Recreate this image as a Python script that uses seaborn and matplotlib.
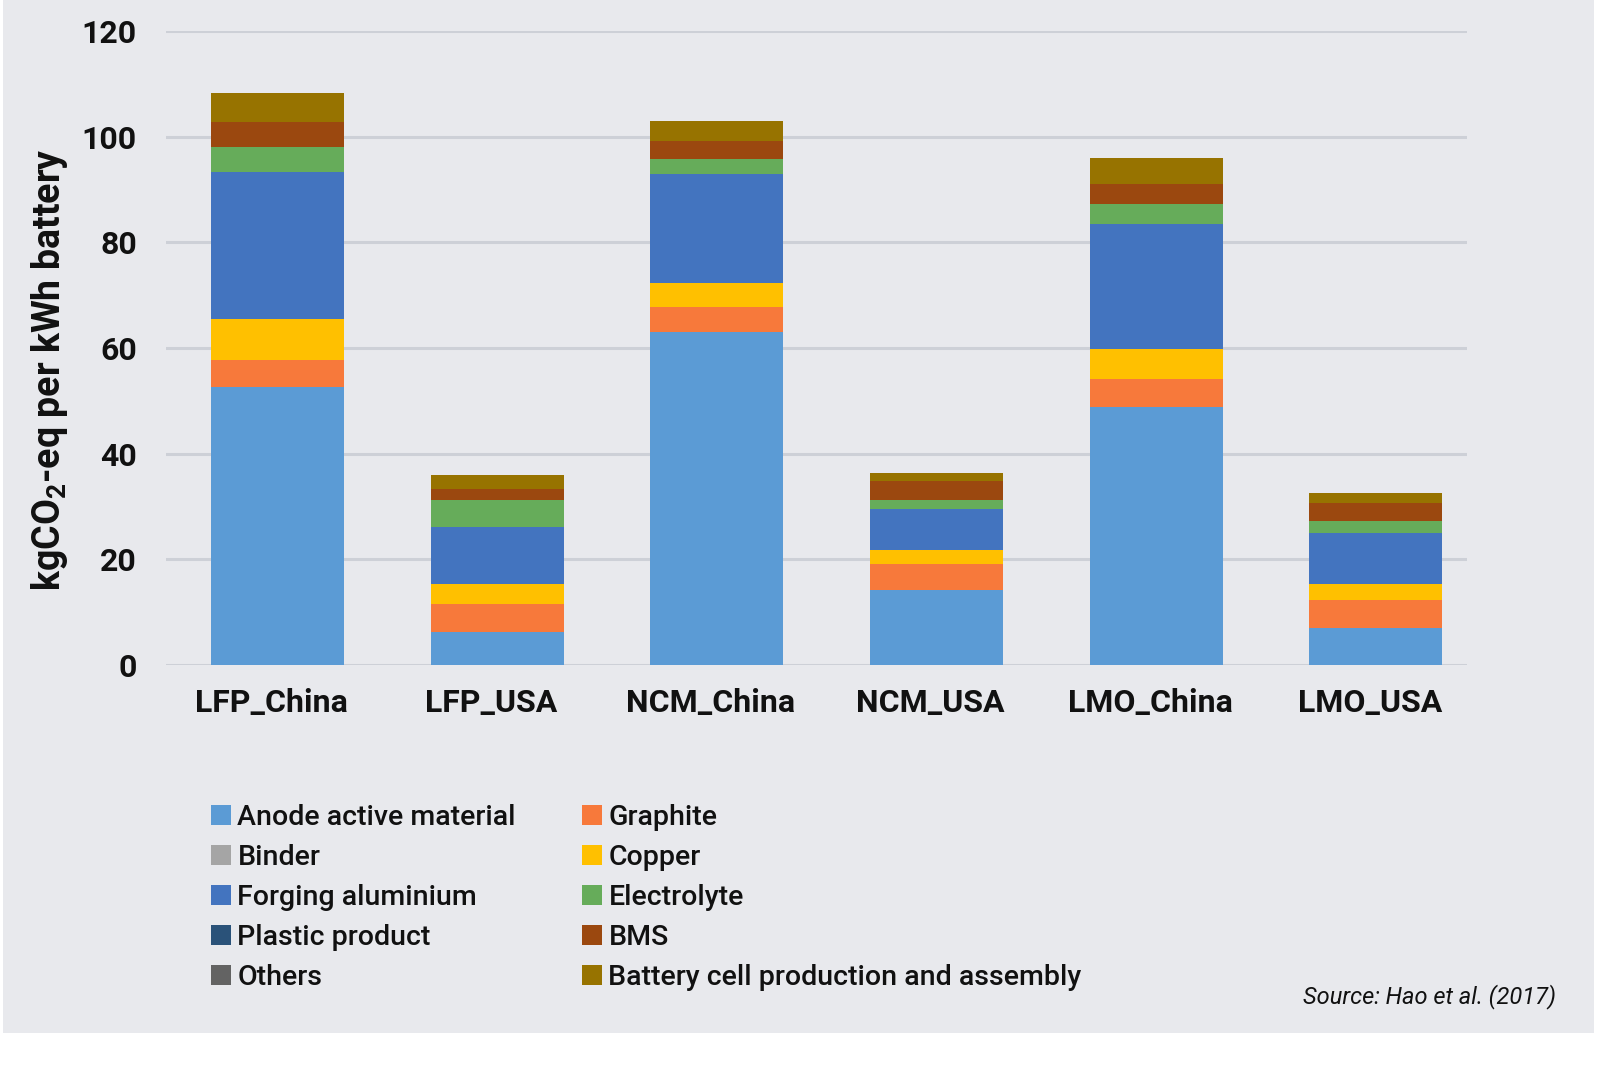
import numpy as np
import pandas as pd
import matplotlib
matplotlib.use("Agg")
import matplotlib.pyplot as plt
import matplotlib.transforms as mtransforms
import seaborn as sns
from matplotlib.patches import Patch, Rectangle
from matplotlib.font_manager import FontProperties

categories = ["LFP_China", "LFP_USA", "NCM_China", "NCM_USA", "LMO_China", "LMO_USA"]

anode_active = [52.6, 6.2, 63.1, 14.1, 48.8, 7.0]
graphite = [5.2, 5.3, 4.6, 4.9, 5.4, 5.3]
binder = [0.0, 0.0, 0.0, 0.0, 0.0, 0.0]
copper = [7.6, 3.7, 4.5, 2.7, 5.5, 3.0]
forging_al = [27.9, 10.9, 20.7, 7.7, 23.8, 9.7]
electrolyte = [4.8, 5.0, 2.9, 1.7, 3.8, 2.3]
plastic = [0.0, 0.0, 0.0, 0.0, 0.0, 0.0]
bms = [4.6, 2.2, 3.4, 3.7, 3.7, 3.3]
others = [0.0, 0.0, 0.0, 0.0, 0.0, 0.0]
cell_assembly = [5.6, 2.7, 3.8, 1.5, 4.9, 2.0]

series_names = ["Anode active material", "Graphite", "Binder", "Copper",
                "Forging aluminium", "Electrolyte", "Plastic product", "BMS",
                "Others", "Battery cell production and assembly"]
series_values = [anode_active, graphite, binder, copper, forging_al,
                 electrolyte, plastic, bms, others, cell_assembly]
series_colors = ["#5B9BD5", "#F7793B", "#A5A5A5", "#FFC000", "#4374BF",
                 "#66AC5A", "#2A5279", "#9B480F", "#636363", "#977300"]

yticks = [0, 20, 40, 60, 80, 100, 120]

sns.set_theme(style="white")
plt.rcParams["font.family"] = ["Roboto", "DejaVu Sans"]
plt.rcParams["mathtext.default"] = "regular"

W, H = 1600, 1067
fig = plt.figure(figsize=(W / 100, H / 100), dpi=100)
fig.patch.set_facecolor("white")
bg = Rectangle((3 / W, 1 - 1033 / H), (1594 - 3) / W, 1033 / H,
               transform=fig.transFigure, facecolor="#E8E9ED",
               edgecolor="none", zorder=-10)
fig.patches.append(bg)

ax_left, ax_right = 166 / W, 1467 / W
ax_top, ax_bot = 1 - 31.1 / H, 1 - 664.7 / H
ax = fig.add_axes([ax_left, ax_bot, ax_right - ax_left, ax_top - ax_bot])
ax.set_facecolor("none")
ax.set_zorder(1)

df = pd.DataFrame({"category": categories})
bottom = np.zeros(len(categories))
for name, vals, col in zip(series_names, series_values, series_colors):
    df["value"] = vals
    sns.barplot(data=df, x="category", y="value", bottom=bottom, color=col,
                width=0.606, linewidth=0, saturation=1, ax=ax, zorder=3)
    bottom = bottom + np.array(vals)

ax.set_xlim(-0.508, 5.415)
ax.set_ylim(0, 120)
ax.set_yticks(yticks)
ax.yaxis.grid(True, color="#CDD0D7", linewidth=2.2, zorder=0)
ax.xaxis.grid(False)
ax.set_axisbelow(True)
for s in ax.spines.values():
    s.set_visible(False)
ax.tick_params(axis="y", length=0, pad=21, labelsize=23, labelcolor="#111111")
ax.tick_params(axis="x", length=0, pad=17, labelsize=23, labelcolor="#111111")
for lab in ax.get_yticklabels() + ax.get_xticklabels():
    lab.set_fontweight("bold")
shift = mtransforms.ScaledTranslation(-6 / 100, 0, fig.dpi_scale_trans)
for lab in ax.get_xticklabels():
    lab.set_transform(lab.get_transform() + shift)
ax.set_xlabel("")
ax.set_ylabel("")

fig.text(50 / W, 1 - 370 / H, r"kgCO$_2$-eq per kWh battery", rotation=90,
         ha="center", va="center", fontsize=27, fontweight="bold", color="#111111")

handles = [Patch(facecolor=c, edgecolor="none") for c in series_colors]
col1 = [0, 2, 4, 6, 8]
col2 = [1, 3, 5, 7, 9]
lprop = FontProperties(family=["Roboto", "DejaVu Sans"], weight="medium", size=20.5)
leg_kw = dict(frameon=False, prop=lprop, handlelength=0.7, handleheight=0.7,
              handletextpad=0.23, labelspacing=0.46, borderpad=0, borderaxespad=0,
              loc="upper left", labelcolor="#111111")
leg1 = fig.legend([handles[i] for i in col1], [series_names[i] for i in col1],
                  bbox_to_anchor=(211 / W, 1 - 804 / H), **leg_kw)
leg2 = fig.legend([handles[i] for i in col2], [series_names[i] for i in col2],
                  bbox_to_anchor=(582 / W, 1 - 804 / H), **leg_kw)

fig.text(1556 / W, 1 - 997 / H, "Source: Hao et al. (2017)", ha="right", va="center",
         fontsize=17, fontstyle="italic", color="#111111")

fig.savefig("out.png", dpi=100, facecolor=fig.get_facecolor())
